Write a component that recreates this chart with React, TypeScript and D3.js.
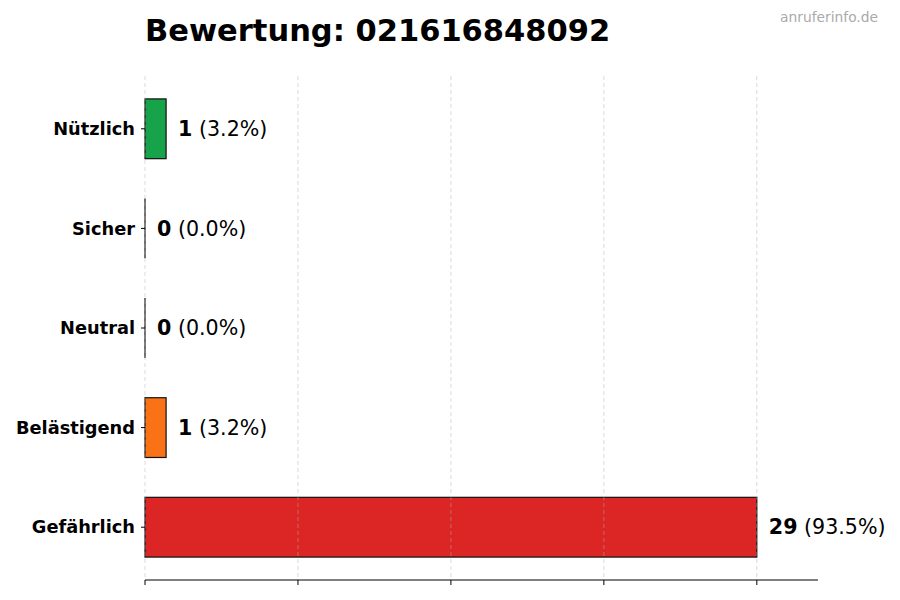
import React from "react";
import * as d3 from "d3";

const categories = ["Gefährlich", "Belästigend", "Neutral", "Sicher", "Nützlich"];
const counts = [29, 1, 0, 0, 1];
const colors = ["#dc2626", "#f97316", "#6b7280", "#3b82f6", "#16a34a"];
const titleText = "Bewertung: 021616848092";
const watermark = "anruferinfo.de";

export default function App() {
  const W = 900, H = 600;
  const left = 145, right = 818, top = 76, bottom = 580;
  const total = d3.sum(counts);
  const maxV = d3.max(counts) as number;
  const x = d3.scaleLinear().domain([0, maxV * 1.1]).range([left, right]);
  const y = d3.scaleLinear().domain([-0.53, 4.53]).range([bottom, top]);
  const ticks = d3.range(5).map((i) => (maxV * i) / 4);
  const barH = y(0) - y(0.6);
  const font = "DejaVu Sans, sans-serif";
  return (
    <svg width={W} height={H} style={{ position: "absolute", left: 0, top: 0 }} fontFamily={font}>
      <rect width={W} height={H} fill="#fff" />
      {categories.map((c, i) =>
        counts[i] > 0 ? (
          <rect key={c} x={x(0)} y={y(i + 0.3)} width={x(counts[i]) - x(0)} height={barH}
            fill={colors[i]} stroke="#111" strokeWidth={1.2} />
        ) : (
          <line key={c} x1={x(0)} x2={x(0)} y1={y(i + 0.3)} y2={y(i - 0.3)} stroke="#111" strokeWidth={1.2} />
        )
      )}
      {ticks.map((t) => (
        <line key={t} x1={x(t)} x2={x(t)} y1={top} y2={bottom} stroke="#b0b0b0" strokeOpacity={0.6}
          strokeDasharray="4,3" strokeWidth={0.8} />
      ))}
      <line x1={left} x2={right} y1={bottom} y2={bottom} stroke="#000" strokeWidth={1} />
      {ticks.map((t) => (
        <line key={"t" + t} x1={x(t)} x2={x(t)} y1={bottom} y2={bottom + 5} stroke="#000" strokeWidth={1} />
      ))}
      {categories.map((c, i) => (
        <g key={"l" + c}>
          <line x1={left - 4} x2={left} y1={y(i)} y2={y(i)} stroke="#000" strokeWidth={1} />
          <text x={left - 10} y={y(i)} dy="0.35em" textAnchor="end" fontWeight="bold" fontSize={17.8}>
            {c}
          </text>
          <text x={x(counts[i]) + 12} y={y(i)} dy="0.35em" fontSize={20.6}>
            <tspan fontWeight="bold">{counts[i]}</tspan>
            <tspan>{` (${((counts[i] / total) * 100).toFixed(1)}%)`}</tspan>
          </text>
        </g>
      ))}
      <text x={left} y={41} fontWeight="bold" fontSize={30.5}>{titleText}</text>
      <text x={878} y={22} textAnchor="end" fontSize={13.8} fill="#aaa">{watermark}</text>
    </svg>
  );
}
